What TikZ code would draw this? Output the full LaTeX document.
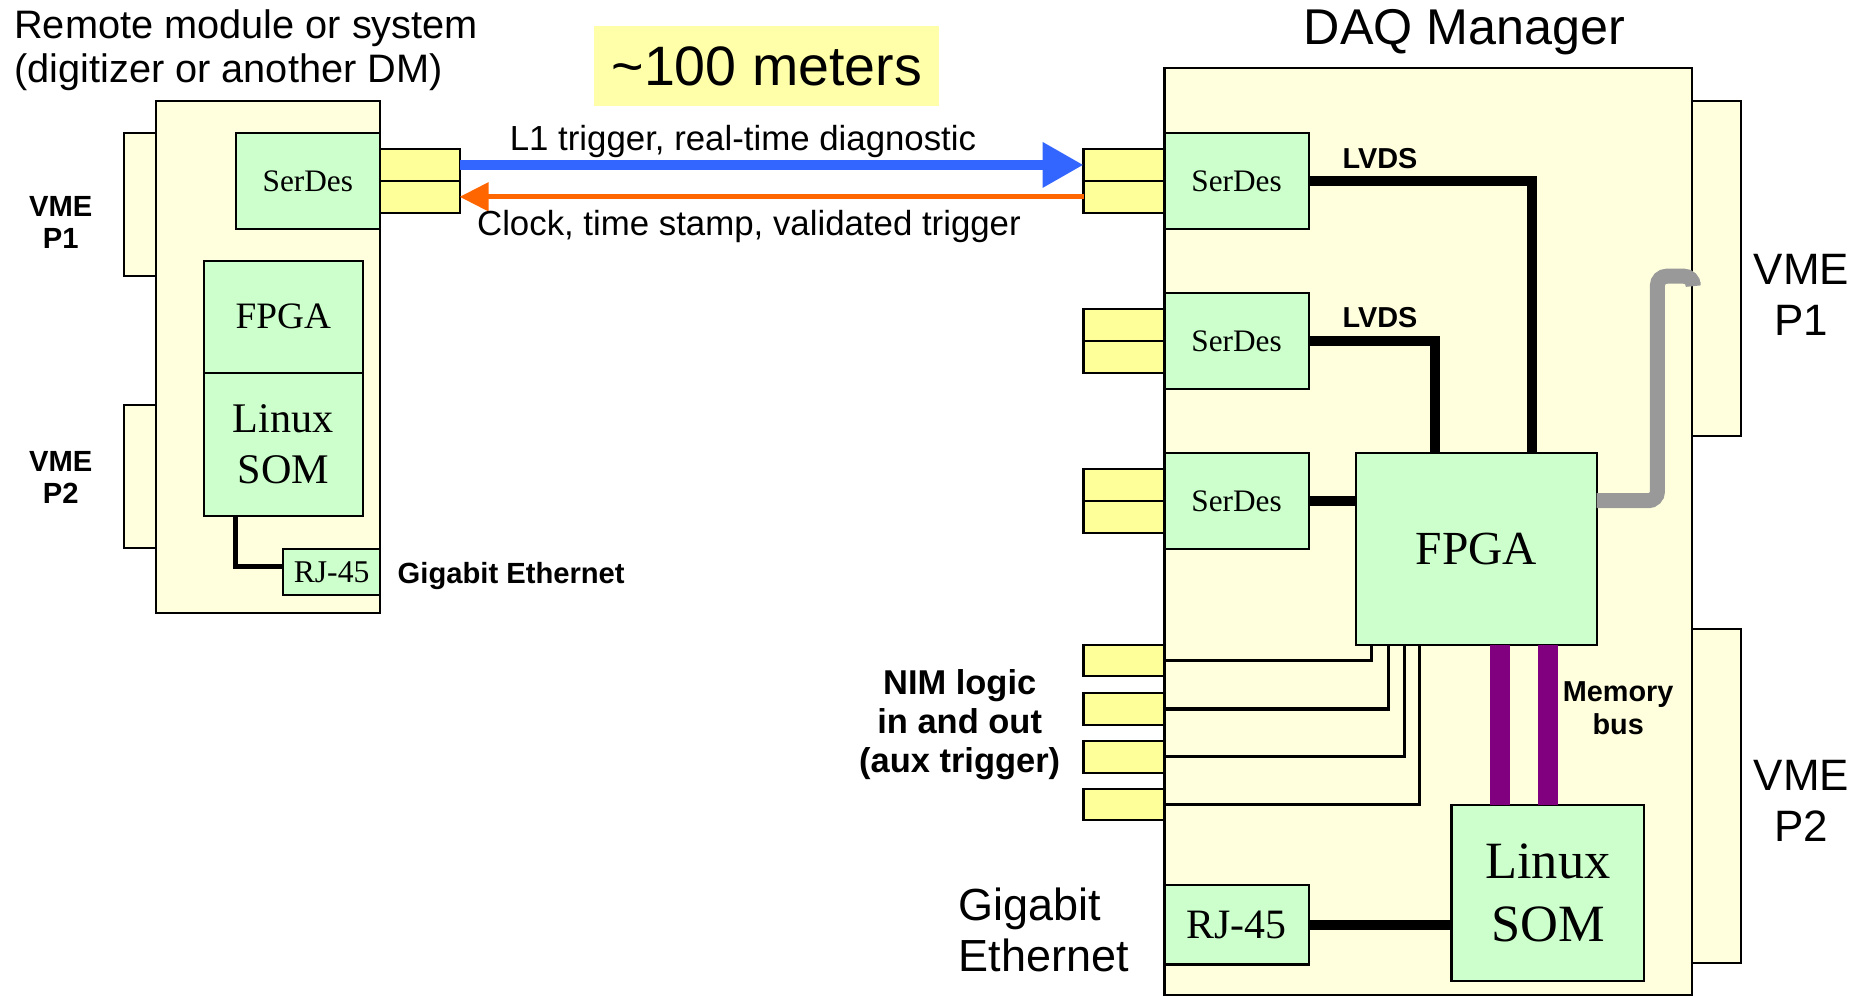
\documentclass[tikz,border=0pt]{standalone}
\usepackage{fontspec}
\setmainfont{Liberation Serif}
\setsansfont{Liberation Sans}
\usetikzlibrary{arrows.meta,calc}
\definecolor{boardc}{HTML}{FFFFDD}
\definecolor{greenc}{HTML}{CCFFCC}
\definecolor{connc}{HTML}{FFFF99}
\definecolor{meterc}{HTML}{FFFFAA}
\definecolor{bluec}{HTML}{3366FF}
\definecolor{orangec}{HTML}{FF6600}
\definecolor{purplec}{HTML}{800080}
\definecolor{greyc}{HTML}{999999}
\newcommand{\fsz}[2]{\fontsize{#1}{#2}\selectfont}
\begin{document}
\begin{tikzpicture}[x=0.011907cm, y=-0.011907cm,
  rect/.style n args={4}{minimum width={(#3-#1)*0.011907cm}, minimum height={(#4-#2)*0.011907cm}, at={({(#1+#3)/2},{(#2+#4)/2})}},
  outl/.style={draw=black, line width=0.6pt, inner sep=0pt, outer sep=0pt},
  boardbox/.style={outl, fill=boardc},
  chip/.style={outl, fill=greenc},
  connbox/.style={outl, fill=connc},
  txt/.style={inner sep=0pt, outer sep=0pt},
  lvds/.style={line width=2.85pt, black, line join=miter},
  nimline/.style={line width=1pt, black},
  thinlink/.style={line width=1.5pt, black},
]
\fill[white] (0,0) rectangle (1568,837);
\useasboundingbox (0,0) rectangle (1568,837);

% ---------------- left module ----------------
\node[boardbox, rect={104}{112}{131}{232}] (lstub1) {};
\node[boardbox, rect={104}{340}{131}{460}] (lstub2) {};
\node[boardbox, rect={131}{85}{319}{515}] (lboard) {};
\node[chip, rect={198}{112}{319}{192}, font=\rmfamily\fsz{8.9pt}{10pt}] (lser) {SerDes};
\node[connbox, rect={319}{125}{386}{152}] (lc1) {};
\node[connbox, rect={319}{152}{386}{178.6}] (lc2) {};
\node[chip, rect={171}{219}{305}{313}, font=\rmfamily\fsz{10.6pt}{12pt}] (lfpga) {FPGA};
\node[chip, rect={171}{313}{305}{433}, align=center, font=\rmfamily\fsz{12pt}{14.5pt}] (lsom) {Linux\\SOM};
\node[chip, rect={238}{461}{319}{500}, font=\rmfamily\fsz{9pt}{10pt}] (lrj) {RJ-45};
\coordinate (lsomx) at (198,433);
\draw[thinlink] (lsomx) |- ($(lrj.west)+(0,-5)$);

\node[txt, align=left, anchor=west, font=\sffamily\fsz{11.3pt}{12.6pt}] (ltitle) at (12,42) {Remote module or system\\(digitizer or another DM)};
\node[txt, align=center, font=\sffamily\bfseries\fsz{8.3pt}{9.1pt}] (lvme1) at (51,187) {VME\\P1};
\node[txt, align=center, font=\sffamily\bfseries\fsz{8.3pt}{9.1pt}] (lvme2) at (51,401) {VME\\P2};
\node[txt, anchor=west, font=\sffamily\bfseries\fsz{8.3pt}{9.1pt}] (lgig) at (334,484) {Gigabit Ethernet};

% ---------------- middle ----------------
\node[fill=meterc, inner sep=0pt, rect={499}{22}{789}{89}, font=\sffamily\fsz{15.8pt}{18pt}] (meters) {\textasciitilde 100 meters};

% ---------------- right module ----------------
\node[boardbox, rect={1421}{85}{1462}{366}] (rstub1) {};
\node[boardbox, rect={1421}{528}{1462}{809}] (rstub2) {};
\node[boardbox, rect={978}{57}{1421}{836}] (rboard) {};

\node[chip, rect={978}{112}{1099}{192}, font=\rmfamily\fsz{8.9pt}{10pt}] (rser1) {SerDes};
\node[chip, rect={978}{246}{1099}{326.5}, font=\rmfamily\fsz{8.9pt}{10pt}] (rser2) {SerDes};
\node[chip, rect={978}{380.5}{1099}{461}, font=\rmfamily\fsz{8.9pt}{10pt}] (rser3) {SerDes};

\node[connbox, rect={910}{125}{978}{152}] (rc1a) {};
\node[connbox, rect={910}{152}{978}{178.6}] (rc1b) {};
\node[connbox, rect={910}{259.5}{978}{286.3}] (rc2a) {};
\node[connbox, rect={910}{286.3}{978}{313}] (rc2b) {};
\node[connbox, rect={910}{394}{978}{420.6}] (rc3a) {};
\node[connbox, rect={910}{420.6}{978}{447.6}] (rc3b) {};

\node[connbox, rect={910}{541.5}{978}{568}] (n1) {};
\node[connbox, rect={910}{582}{978}{609}] (n2) {};
\node[connbox, rect={910}{622}{978}{649}] (n3) {};
\node[connbox, rect={910}{662.5}{978}{689}] (n4) {};

\node[chip, rect={1139}{380.5}{1341}{541.5}, font=\rmfamily\fsz{13.5pt}{15pt}] (rfpga) {FPGA};
\node[chip, rect={1219}{676}{1381}{824}, align=center, font=\rmfamily\fsz{14.9pt}{17.9pt}] (rsom) {Linux\\SOM};
\node[chip, rect={978}{743}{1099}{810}, font=\rmfamily\fsz{11.9pt}{13pt}] (rrj) {RJ-45};

% links
\draw[lvds] (rser1.east) -| ($(rfpga.north west)+(147.5,0)$);
\draw[lvds] (rser2.east) -| ($(rfpga.north west)+(66.5,0)$);
\draw[lvds] (rser3.east) -- (rfpga.west |- rser3.east);
\draw[line width=4.27pt, greyc, rounded corners=2.6pt]
  ($(rfpga.north east)+(0,40)$) -- (1392,420.5) -- (1392,232) -- (1422,232) -- (1422,237);
\draw[line width=5.7pt, purplec] ($(rfpga.south west)+(121,0)$) -- ($(rsom.north west)+(41,0)$);
\draw[line width=5.7pt, purplec] ($(rfpga.south west)+(161,0)$) -- ($(rsom.north west)+(81,0)$);
\draw[nimline] (n1.east) -| ($(rfpga.south west)+(13,0)$);
\draw[nimline] (n2.east) -| ($(rfpga.south west)+(27,0)$);
\draw[nimline] (n3.east) -| ($(rfpga.south west)+(40.5,0)$);
\draw[nimline] (n4.east) -| ($(rfpga.south west)+(53,0)$);
\draw[line width=2.85pt, black] (rrj.east) -- (rsom.west |- rrj.east);

% long-haul arrows
\draw[line width=2.85pt, bluec, -{Triangle[length=4.1mm, width=4.3mm]}] (lc1.east) -- (rc1a.west);
\draw[line width=1.42pt, orangec, -{Triangle[length=2.9mm, width=2.8mm]}] (rc1b.west) -- (lc2.east);
\node[txt, font=\sffamily\fsz{9.9pt}{11pt}] (l1lab) at (624,119) {L1 trigger, real-time diagnostic};
\node[txt, font=\sffamily\fsz{9.9pt}{11pt}] (clklab) at (629,190) {Clock, time stamp, validated trigger};

% right labels
\node[txt, font=\sffamily\fsz{14.3pt}{16pt}] (daq) at (1230,27) {DAQ Manager};
\node[txt, font=\sffamily\bfseries\fsz{8.2pt}{9pt}] (lvdsa) at (1159,133) {LVDS};
\node[txt, font=\sffamily\bfseries\fsz{8.2pt}{9pt}] (lvdsb) at (1159,267) {LVDS};
\node[txt, align=center, font=\sffamily\bfseries\fsz{8.2pt}{9.5pt}] (membus) at (1359,595) {Memory\\bus};
\node[txt, align=center, font=\sffamily\bfseries\fsz{9.8pt}{11.1pt}] (nimlab) at (806,609) {NIM logic\\in and out\\(aux trigger)};
\node[txt, align=left, anchor=west, font=\sffamily\fsz{12.8pt}{14.5pt}] (rgig) at (805,781) {Gigabit\\Ethernet};
\node[txt, align=center, font=\sffamily\fsz{12.5pt}{14.5pt}] (rvme1) at (1513,248) {VME\\P1};
\node[txt, align=center, font=\sffamily\fsz{12.5pt}{14.5pt}] (rvme2) at (1513,673) {VME\\P2};
\end{tikzpicture}
\end{document}
